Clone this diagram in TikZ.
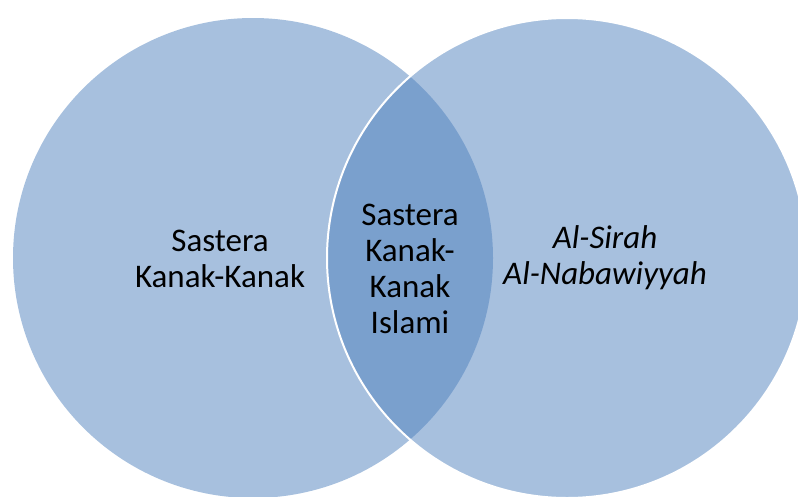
\documentclass[tikz,border=0pt]{standalone}
\usepackage{fontspec}
\setmainfont{Carlito}
\definecolor{vennblue}{HTML}{4F81BD}
\tikzset{
  vennset/.style={circle, fill=vennblue, fill opacity=0.5, minimum size=480pt, inner sep=0pt},
  setname/.style={align=center, text=black, font=\fontsize{33}{36}\selectfont}
}
\begin{document}
\begin{tikzpicture}[x=1pt,y=-1pt]
  \useasboundingbox (0,0) rectangle (798,496);
  \node[vennset] (kids) at (253,258) {};
  \node[vennset, draw=white, draw opacity=1, line width=2pt] (sirah) at (567,258) {};
  \node[setname] (kidsname) at (220,259) {Sastera\\Kanak-Kanak};
  \node[setname] (bothname) at (410,269) {Sastera\\Kanak-\\Kanak\\Islami};
  \node[setname, font=\fontsize{33}{36}\selectfont\itshape] (sirahname) at (605,258) {Al-Sirah\\Al-Nabawiyyah};
\end{tikzpicture}
\end{document}
